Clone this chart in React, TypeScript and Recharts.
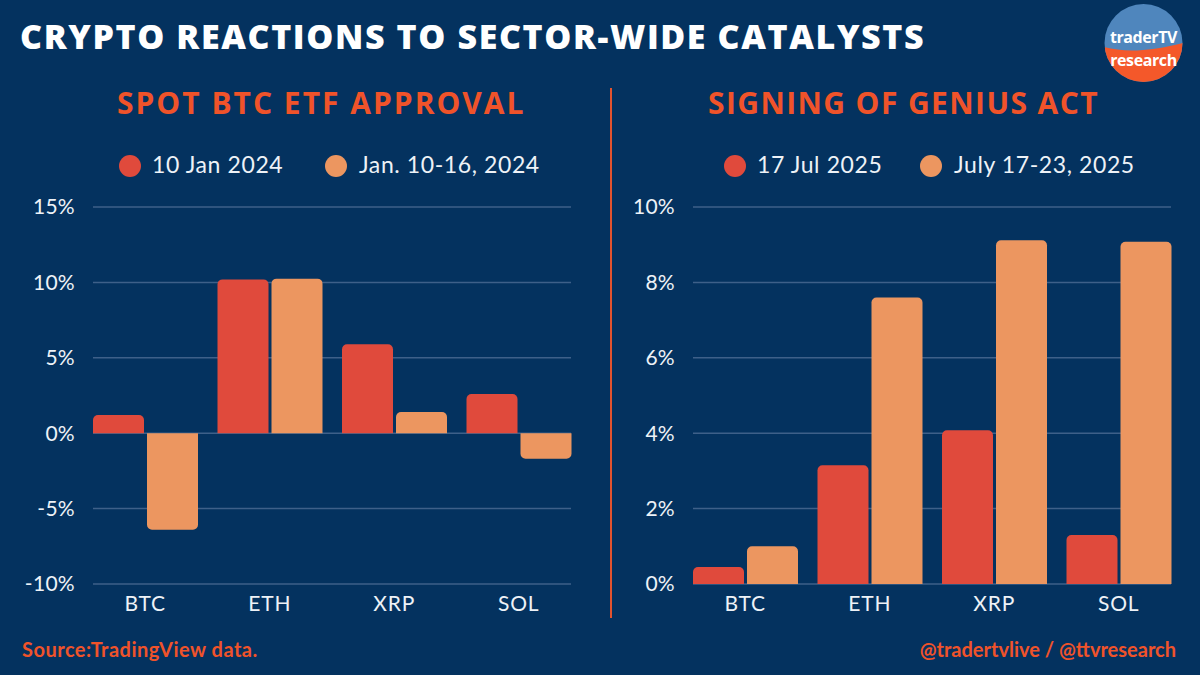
import { BarChart, Bar, XAxis, YAxis, CartesianGrid } from "recharts";

const coins = ["BTC", "ETH", "XRP", "SOL"];

// Spot BTC ETF approval (% change)
const etfDay = [1.2, 10.2, 5.9, 2.6];
const etfWeek = [-6.4, 10.25, 1.4, -1.7];

// Signing of GENIUS Act (% change)
const geniusDay = [0.45, 3.15, 4.08, 1.3];
const geniusWeek = [1.0, 7.6, 9.12, 9.08];

const etfTicks = [-10, -5, 0, 5, 10, 15];
const geniusTicks = [0, 2, 4, 6, 8, 10];

const BG = "#04325f";
const RED = "#e04a3c";
const ORANGE = "#ec9660";
const ACCENT = "#f0532a";
const GRID = "#3e6089";
const TEXT = "#eef2f7";
const FONT = "Lato, 'Open Sans', sans-serif";

const etfData = coins.map((c, i) => ({ coin: c, day: etfDay[i], week: etfWeek[i] }));
const geniusData = coins.map((c, i) => ({ coin: c, day: geniusDay[i], week: geniusWeek[i] }));

function Panel({ data, ticks, domain }: { data: any[]; ticks: number[]; domain: [number, number] }) {
  return (
    <BarChart
      width={600}
      height={675}
      data={data}
      margin={{ top: 207, right: 29, bottom: 51, left: 33 }}
      barCategoryGap={10}
      barGap={3}
    >
      <CartesianGrid vertical={false} stroke={GRID} strokeWidth={1.5} />
      <XAxis
        dataKey="coin"
        axisLine={false}
        tickLine={false}
        tickSize={0}
        tickMargin={12}
        height={40}
        padding={{ left: -10, right: -10 }}
        tick={{ fill: TEXT, fontSize: 21, fontFamily: FONT, letterSpacing: 0.8 }}
      />
      <YAxis
        type="number"
        domain={domain}
        ticks={ticks}
        interval={0}
        axisLine={false}
        tickLine={false}
        tickSize={0}
        tickMargin={18}
        width={60}
        tickFormatter={(v: number) => `${v}%`}
        tick={{ fill: TEXT, fontSize: 21, fontFamily: FONT, letterSpacing: 0.3 }}
      />
      <Bar dataKey="day" fill={RED} radius={[5, 5, 0, 0]} isAnimationActive={false} />
      <Bar dataKey="week" fill={ORANGE} radius={[5, 5, 0, 0]} isAnimationActive={false} />
    </BarChart>
  );
}

function LegendItem({ x, textX, color, label }: { x: number; textX: number; color: string; label: string }) {
  return (
    <>
      <span
        style={{
          position: "absolute",
          left: x - 11,
          top: 155,
          width: 22,
          height: 22,
          borderRadius: "50%",
          background: color,
        }}
      />
      <span
        style={{
          position: "absolute",
          left: textX,
          top: 150,
          color: TEXT,
          fontSize: 23,
          letterSpacing: 0.6,
          fontFamily: FONT,
          whiteSpace: "nowrap",
        }}
      >
        {label}
      </span>
    </>
  );
}

function Logo() {
  return (
    <svg width={90} height={90} style={{ position: "absolute", left: 1100, top: 0 }}>
      <defs>
        <clipPath id="logoClip">
          <circle cx={43.5} cy={43} r={39} />
        </clipPath>
      </defs>
      <g clipPath="url(#logoClip)">
        <rect x={0} y={0} width={90} height={90} fill="#4f86bd" />
        <path d="M0 46 Q20 52 43 50 T90 41 L90 90 L0 90 Z" fill="#f4582a" />
      </g>
      <text x={43.5} y={43} textAnchor="middle" fill="#fff" fontSize={16} fontWeight={700} letterSpacing={-0.4} fontFamily="'Open Sans', sans-serif">
        traderTV
      </text>
      <text x={43.5} y={66} textAnchor="middle" fill="#fff" fontSize={16} fontWeight={700} letterSpacing={-0.4} fontFamily="'Open Sans', sans-serif">
        research
      </text>
    </svg>
  );
}

export default function App() {
  return (
    <div
      style={{
        position: "absolute",
        left: 0,
        top: 0,
        width: 1200,
        height: 675,
        background: BG,
        overflow: "hidden",
        fontFamily: FONT,
      }}
    >
      <div
        style={{
          position: "absolute",
          left: 20,
          top: 13,
          color: "#fff",
          fontSize: 34,
          fontWeight: 800,
          letterSpacing: 1.6,
          fontFamily: "'Open Sans', sans-serif",
          whiteSpace: "nowrap",
        }}
      >
        CRYPTO REACTIONS TO SECTOR-WIDE CATALYSTS
      </div>
      <Logo />

      <div
        style={{
          position: "absolute",
          left: 117,
          top: 82,
          color: ACCENT,
          fontSize: 30,
          fontWeight: 700,
          letterSpacing: 2.0,
          fontFamily: "'Open Sans', sans-serif",
          whiteSpace: "nowrap",
        }}
      >
        SPOT BTC ETF APPROVAL
      </div>
      <div
        style={{
          position: "absolute",
          left: 708,
          top: 82,
          color: ACCENT,
          fontSize: 30,
          fontWeight: 700,
          letterSpacing: 1.4,
          fontFamily: "'Open Sans', sans-serif",
          whiteSpace: "nowrap",
        }}
      >
        SIGNING OF GENIUS ACT
      </div>

      <div style={{ position: "absolute", left: 610, top: 88, width: 2, height: 530, background: "#e2532f" }} />

      <LegendItem x={130} textX={152} color={RED} label="10 Jan 2024" />
      <LegendItem x={335.5} textX={359} color={ORANGE} label="Jan. 10-16, 2024" />
      <LegendItem x={734.5} textX={757} color={RED} label="17 Jul 2025" />
      <LegendItem x={931} textX={954} color={ORANGE} label="July 17-23, 2025" />

      <div style={{ position: "absolute", left: 0, top: 0 }}>
        <Panel data={etfData} ticks={etfTicks} domain={[-10, 15]} />
      </div>
      <div style={{ position: "absolute", left: 600, top: 0 }}>
        <Panel data={geniusData} ticks={geniusTicks} domain={[0, 10]} />
      </div>

      <div
        style={{
          position: "absolute",
          left: 22,
          top: 637,
          color: ACCENT,
          fontSize: 20,
          fontWeight: 700,
          letterSpacing: 0.5,
        }}
      >
        Source:TradingView data.
      </div>
      <div
        style={{
          position: "absolute",
          right: 24,
          top: 637,
          color: ACCENT,
          fontSize: 20,
          fontWeight: 700,
          letterSpacing: 0,
        }}
      >
        @tradertvlive / @ttvresearch
      </div>
    </div>
  );
}
